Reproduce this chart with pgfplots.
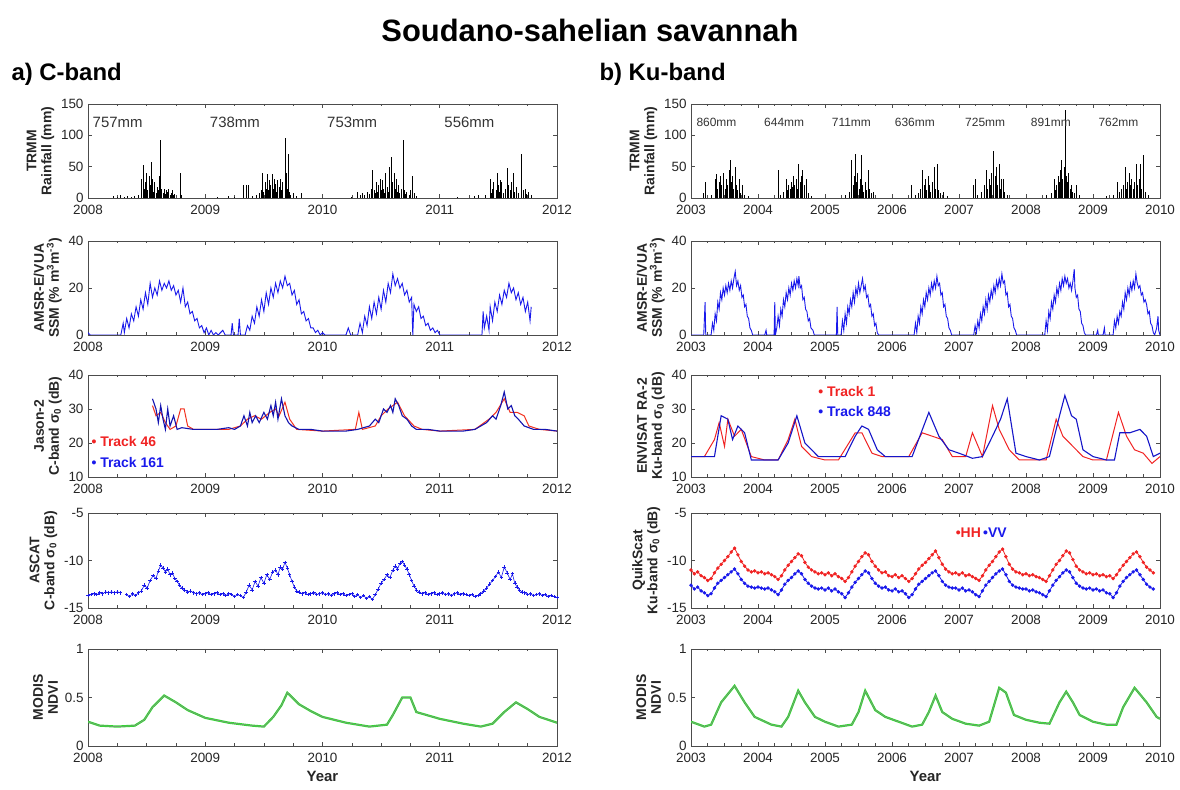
\documentclass[border=0pt]{standalone}
\usepackage{fontspec}
\setmainfont{Liberation Sans}
\usepackage{pgfplots}
\pgfplotsset{compat=1.18}

\definecolor{mblue}{RGB}{25,25,235}
\definecolor{mred}{RGB}{240,35,35}
\definecolor{mgreen}{RGB}{50,215,50}

\pgfplotsset{
  panel/.style={
    scale only axis, width=469bp,
    axis line style={line width=0.7bp, black!70},
    every tick/.style={black!70, line width=0.6bp},
    major tick length=4bp, minor tick length=2.5bp,
    minor x tick num=3,
    tick align=inside,
    /pgf/number format/assume math mode=true,
    /pgf/number format/1000 sep={},
    tick label style={font=\fontsize{13.5}{13.5}\selectfont, black!85},
    xticklabel style={yshift=-4bp},
    yticklabel style={xshift=-1bp},
    ylabel style={font=\fontsize{14}{15}\selectfont\bfseries, align=center, black!85},
    xlabel style={font=\fontsize{15}{15}\selectfont\bfseries, black!85, yshift=-1bp},
    clip=true,
  },
  leftp/.style={panel, xmin=2008, xmax=2012, xtick={2008,2009,2010,2011,2012}},
  rightp/.style={panel, xmin=2003, xmax=2010, xtick={2003,2004,2005,2006,2007,2008,2009,2010}},
  p1/.style={anchor=south west, height=94bp, ymin=0, ymax=150, ytick={0,50,100,150}, ylabel={TRMM\\Rainfall (mm)}},
  p2/.style={anchor=south west, height=94bp, ymin=0, ymax=40, ytick={0,20,40}, ylabel={AMSR-E/VUA\\SSM (\% m\textsuperscript{3}m\textsuperscript{-3})}},
  p3/.style={anchor=south west, height=102bp, ymin=10, ymax=40, ytick={10,20,30,40}},
  p4/.style={anchor=south west, height=95bp, ymin=-15, ymax=-5, ytick={-15,-10,-5}},
  p5/.style={anchor=south west, height=97bp, ymin=0, ymax=1, ytick={0,0.5,1}, ylabel={MODIS\\NDVI}, xlabel={Year}},
  rain/.style={ycomb, black, line width=0.9bp, mark=none},
  ssm/.style={mblue, line width=0.9bp, mark=none},
}

\begin{document}
\begin{tikzpicture}[x=1bp,y=1bp]
\path[use as bounding box] (0,0) rectangle (1180,790);

\node[font=\fontsize{31}{31}\selectfont\bfseries] at (590,760) {Soudano-sahelian savannah};
\node[anchor=west, font=\fontsize{24}{24}\selectfont\bfseries] at (8,716) {a) C-band};
\node[anchor=west, font=\fontsize{24}{24}\selectfont\bfseries] at (596,716) {b) Ku-band};

% ===================== LEFT: C-band =====================
\begin{axis}[leftp, p1, at={(88bp,592bp)}]
\addplot[rain] coordinates {
(2008.22,3)(2008.25,2)(2008.28,4)(2008.31,2)(2008.34,3)(2008.37,2)(2008.40,3)(2008.43,5)(2008.46,30)(2008.47,52)(2008.48,15)(2008.49,25)(2008.50,40)(2008.51,12)(2008.52,35)(2008.53,20)(2008.54,58)(2008.55,30)(2008.56,10)(2008.57,25)(2008.58,8)(2008.59,18)(2008.60,12)(2008.61,35)(2008.62,92)(2008.63,15)(2008.64,8)(2008.65,14)(2008.66,6)(2008.67,12)(2008.68,10)(2008.69,15)(2008.70,5)(2008.71,8)(2008.72,12)(2008.73,4)(2008.74,6)(2008.79,40)(2008.80,5)
(2009.10,2)(2009.20,3)(2009.25,2)(2009.33,20)(2009.35,20)(2009.37,20)(2009.40,3)(2009.44,5)(2009.46,8)(2009.48,12)(2009.49,40)(2009.50,10)(2009.51,25)(2009.52,15)(2009.53,38)(2009.54,12)(2009.55,28)(2009.56,20)(2009.57,38)(2009.58,15)(2009.59,30)(2009.60,22)(2009.61,10)(2009.62,28)(2009.63,18)(2009.64,30)(2009.65,12)(2009.66,25)(2009.68,95)(2009.69,40)(2009.70,15)(2009.71,70)(2009.72,10)(2009.73,5)(2009.75,8)(2009.78,3)(2009.82,8)
(2010.25,2)(2010.30,10)(2010.32,5)(2010.34,8)(2010.36,4)(2010.38,10)(2010.40,6)(2010.42,15)(2010.43,45)(2010.44,12)(2010.45,8)(2010.46,25)(2010.47,10)(2010.48,20)(2010.49,30)(2010.50,12)(2010.51,28)(2010.52,15)(2010.53,8)(2010.54,40)(2010.55,18)(2010.56,10)(2010.57,50)(2010.59,66)(2010.60,25)(2010.61,40)(2010.62,15)(2010.63,30)(2010.64,10)(2010.65,20)(2010.66,8)(2010.67,15)(2010.69,92)(2010.70,12)(2010.71,6)(2010.72,10)(2010.74,5)(2010.75,12)(2010.77,35)(2010.78,8)(2010.80,3)
(2011.15,2)(2011.30,3)(2011.33,5)(2011.39,4)(2011.43,30)(2011.44,8)(2011.45,15)(2011.46,25)(2011.48,12)(2011.49,40)(2011.50,20)(2011.51,10)(2011.52,28)(2011.53,25)(2011.54,8)(2011.56,15)(2011.58,48)(2011.59,20)(2011.60,12)(2011.61,25)(2011.63,40)(2011.64,10)(2011.65,18)(2011.67,8)(2011.70,70)(2011.71,12)(2011.73,15)(2011.74,6)(2011.76,10)(2011.78,4)
};
\node[anchor=west, font=\fontsize{15}{15}\selectfont, black!80] at (axis cs:2008.01,120) {757mm};
\node[anchor=west, font=\fontsize{15}{15}\selectfont, black!80] at (axis cs:2009.01,120) {738mm};
\node[anchor=west, font=\fontsize{15}{15}\selectfont, black!80] at (axis cs:2010.01,120) {753mm};
\node[anchor=west, font=\fontsize{15}{15}\selectfont, black!80] at (axis cs:2011.01,120) {556mm};
\end{axis}

\begin{axis}[leftp, p2, at={(88bp,455bp)}]
\addplot[ssm] coordinates {
(2008.00,1)(2008.02,0)(2008.28,0)(2008.30,5)(2008.31,1)(2008.33,7)(2008.35,3)(2008.37,9)(2008.39,6)(2008.41,12)(2008.43,8)(2008.45,15)(2008.47,11)(2008.49,18)(2008.51,13)(2008.53,22)(2008.55,16)(2008.57,20)(2008.59,17)(2008.61,23)(2008.63,19)(2008.65,22)(2008.67,20)(2008.69,23)(2008.71,19)(2008.73,21)(2008.75,17)(2008.77,19)(2008.79,14)(2008.81,20)(2008.83,12)(2008.85,14)(2008.87,9)(2008.89,10)(2008.91,6)(2008.93,7)(2008.95,3)(2008.97,4)(2008.99,1)(2009.01,3)(2009.03,0)(2009.05,2)(2009.07,0)(2009.09,1)(2009.11,0)(2009.15,2)(2009.17,0)(2009.22,0)(2009.23,5)(2009.24,0)(2009.28,0)(2009.29,7)(2009.30,0)
(2009.34,0)(2009.36,4)(2009.38,2)(2009.40,8)(2009.42,5)(2009.44,12)(2009.46,8)(2009.48,15)(2009.50,10)(2009.52,18)(2009.54,13)(2009.56,20)(2009.58,16)(2009.60,22)(2009.62,18)(2009.64,23)(2009.66,20)(2009.68,25)(2009.70,21)(2009.72,22)(2009.74,17)(2009.76,19)(2009.78,13)(2009.80,15)(2009.82,9)(2009.84,10)(2009.86,6)(2009.88,7)(2009.90,3)(2009.92,3)(2009.94,1)(2009.96,2)(2009.98,0)(2010.00,1)(2010.02,0)(2010.20,0)(2010.22,3)(2010.24,0)
(2010.30,0)(2010.32,5)(2010.34,1)(2010.36,8)(2010.38,4)(2010.40,12)(2010.42,7)(2010.44,14)(2010.46,9)(2010.48,16)(2010.50,11)(2010.52,19)(2010.54,14)(2010.56,22)(2010.58,18)(2010.60,26)(2010.62,21)(2010.64,24)(2010.66,20)(2010.68,22)(2010.70,17)(2010.72,19)(2010.74,14)(2010.76,16)(2010.77,0)(2010.78,13)(2010.80,10)(2010.82,12)(2010.84,7)(2010.86,8)(2010.88,4)(2010.90,5)(2010.92,2)(2010.94,3)(2010.96,1)(2010.98,2)(2011.00,0)(2011.36,0)
(2011.37,10)(2011.38,3)(2011.40,8)(2011.42,2)(2011.43,12)(2011.45,6)(2011.47,14)(2011.49,10)(2011.51,17)(2011.53,13)(2011.55,19)(2011.57,16)(2011.59,22)(2011.61,18)(2011.63,20)(2011.65,15)(2011.67,18)(2011.69,13)(2011.71,16)(2011.73,10)(2011.75,14)(2011.77,6)(2011.78,12)
};
\end{axis}

\begin{axis}[leftp, p3, at={(88bp,313bp)}, ylabel={Jason-2\\C-band σ\textsubscript{0} (dB)}]
\addplot[mred!85!orange, line width=1bp, mark=none] coordinates {
(2008.55,31)(2008.58,28)(2008.62,29)(2008.66,26)(2008.70,24)(2008.75,25)(2008.79,30)(2008.82,30)(2008.85,25)(2008.90,24)(2009.0,24)(2009.2,24)(2009.3,25)(2009.36,27)(2009.42,28)(2009.48,27)(2009.55,29)(2009.6,30)(2009.63,28)(2009.68,32)(2009.72,27)(2009.78,24)(2010.0,23.5)(2010.28,24)(2010.31,29)(2010.34,24)(2010.45,25)(2010.5,28)(2010.56,30)(2010.6,31)(2010.64,32)(2010.7,28)(2010.78,25)(2010.85,24)(2011.0,23.5)(2011.3,24)(2011.42,27)(2011.48,29)(2011.55,33)(2011.6,29)(2011.66,29)(2011.72,28)(2011.76,25)(2011.85,24)(2012,23.5)
};
\addplot[mblue!75!black, line width=1.1bp, mark=none] coordinates {
(2008.55,33)(2008.58,30)(2008.60,26)(2008.62,31)(2008.64,27)(2008.66,24)(2008.68,30)(2008.70,25)(2008.73,28)(2008.76,24)(2008.80,24.5)(2008.90,24)(2009.0,24)(2009.1,24)(2009.2,24.5)(2009.25,24)(2009.30,25)(2009.33,28)(2009.36,25)(2009.38,29)(2009.40,26)(2009.43,28)(2009.46,26)(2009.50,29)(2009.53,27)(2009.56,31)(2009.58,28)(2009.60,32)(2009.62,27)(2009.65,33)(2009.68,28)(2009.71,26)(2009.74,25)(2009.80,24)(2009.9,24)(2010.0,23.5)(2010.2,23.5)(2010.3,24)(2010.4,25)(2010.45,27)(2010.48,26)(2010.52,30)(2010.55,29)(2010.58,31)(2010.60,29)(2010.62,33)(2010.65,31)(2010.68,28)(2010.72,27)(2010.76,25)(2010.8,24)(2010.9,24)(2011.0,23.5)(2011.2,23.5)(2011.3,24)(2011.4,26)(2011.45,28)(2011.48,27)(2011.52,31)(2011.55,35)(2011.58,30)(2011.61,31)(2011.64,28)(2011.67,27)(2011.72,25)(2011.8,24)(2011.9,24)(2012.0,23.5)
};
\node[anchor=west, font=\fontsize{14}{14}\selectfont\bfseries, text=mred] at (axis cs:2008.0,20.3) {• Track 46};
\node[anchor=west, font=\fontsize{14}{14}\selectfont\bfseries, text=mblue] at (axis cs:2008.0,14.4) {• Track 161};
\end{axis}

\begin{axis}[leftp, p4, at={(88bp,182bp)}, ylabel={ASCAT\\C-band σ\textsubscript{0} (dB)}, unbounded coords=jump]
\addplot[mblue, line width=0.6bp, mark=+, mark size=1.8bp, mark options={line width=0.6bp}] coordinates {
(2008.000,-13.7)(2008.025,-13.6)(2008.050,-13.5)(2008.075,-13.6)(2008.100,-13.4)(2008.125,-13.5)(2008.150,-13.3)(2008.175,-13.4)(2008.200,-13.3)(2008.225,-13.4)(2008.250,-13.3)(2008.275,-13.4)(2008.300,nan)
(2008.330,-13.6)(2008.355,-13.8)(2008.380,-13.5)(2008.405,-13.7)(2008.430,-13.4)(2008.455,-13.2)(2008.480,-12.6)(2008.505,-12.9)(2008.530,-12.1)(2008.555,-11.6)(2008.580,-11.9)(2008.600,-11.1)(2008.620,-10.5)(2008.640,-10.8)(2008.660,-11.2)(2008.680,-10.9)(2008.700,-11.5)(2008.720,-11.3)(2008.740,-11.9)(2008.760,-12.2)(2008.780,-12.6)(2008.800,-12.9)(2008.825,-13.1)(2008.850,-13.3)(2008.875,-13.2)(2008.900,-13.4)(2008.925,-13.5)(2008.950,-13.4)(2008.975,-13.6)
(2009.000,-13.5)(2009.025,-13.4)(2009.050,-13.6)(2009.075,-13.5)(2009.100,-13.4)(2009.125,-13.6)(2009.150,-13.5)(2009.175,-13.7)(2009.200,-13.5)(2009.225,-13.6)(2009.250,-13.8)(2009.275,-13.6)(2009.300,-13.7)(2009.325,-13.9)(2009.350,-13.3)(2009.375,-12.6)(2009.400,-13.1)(2009.425,-12.2)(2009.450,-12.7)(2009.475,-11.8)(2009.500,-12.4)(2009.525,-11.5)(2009.550,-12.0)(2009.575,-11.2)(2009.600,-11.0)(2009.620,-11.5)(2009.640,-10.7)(2009.660,-10.9)(2009.680,-10.2)(2009.700,-10.8)(2009.720,-11.5)(2009.740,-12.2)(2009.760,-12.8)(2009.780,-13.2)(2009.800,-13.3)(2009.825,-13.5)(2009.850,-13.4)(2009.875,-13.6)(2009.900,-13.5)(2009.925,-13.4)(2009.950,-13.6)(2009.975,-13.5)
(2010.000,-13.4)(2010.025,-13.6)(2010.050,-13.5)(2010.075,-13.7)(2010.100,-13.5)(2010.125,-13.4)(2010.150,-13.6)(2010.175,-13.5)(2010.200,-13.7)(2010.225,-13.6)(2010.250,-13.5)(2010.275,-13.8)(2010.300,-13.6)(2010.325,-13.9)(2010.350,-13.7)(2010.375,-14.0)(2010.400,-13.8)(2010.425,-14.1)(2010.450,-13.6)(2010.475,-13.0)(2010.500,-12.4)(2010.525,-12.0)(2010.550,-11.5)(2010.575,-11.8)(2010.600,-11.0)(2010.620,-10.6)(2010.640,-10.9)(2010.660,-10.3)(2010.680,-10.1)(2010.700,-10.5)(2010.720,-10.9)(2010.740,-11.5)(2010.760,-12.1)(2010.780,-12.7)(2010.800,-13.1)(2010.825,-13.3)(2010.850,-13.5)(2010.875,-13.4)(2010.900,-13.6)(2010.925,-13.5)(2010.950,-13.4)(2010.975,-13.6)
(2011.000,-13.5)(2011.025,-13.4)(2011.050,-13.6)(2011.075,-13.5)(2011.100,-13.7)(2011.125,-13.5)(2011.150,-13.4)(2011.175,-13.6)(2011.200,-13.5)(2011.225,-13.6)(2011.250,-13.7)(2011.275,-13.6)(2011.300,-13.8)(2011.325,-13.7)(2011.350,-13.5)(2011.375,-13.2)(2011.400,-12.9)(2011.425,-12.5)(2011.450,-12.1)(2011.475,-11.7)(2011.500,-11.2)(2011.525,-11.8)(2011.550,-10.7)(2011.575,-11.3)(2011.600,-12.0)(2011.620,-11.4)(2011.640,-12.4)(2011.660,-12.8)(2011.680,-13.1)(2011.700,-13.3)(2011.725,-13.4)(2011.750,-13.6)(2011.775,-13.5)(2011.800,-13.7)(2011.825,-13.6)(2011.850,-13.5)(2011.875,-13.7)(2011.900,-13.6)(2011.925,-13.8)(2011.950,-13.7)(2011.975,-13.8)(2012.000,-13.9)
};
\end{axis}

\begin{axis}[leftp, p5, at={(88bp,44bp)}]
\addplot[mgreen, line width=2.2bp, mark=none] coordinates {
(2008.0,0.25)(2008.1,0.21)(2008.25,0.20)(2008.4,0.21)(2008.48,0.27)(2008.55,0.40)(2008.65,0.52)(2008.75,0.45)(2008.85,0.37)(2009.0,0.29)(2009.2,0.24)(2009.4,0.21)(2009.5,0.20)(2009.58,0.30)(2009.65,0.42)(2009.7,0.55)(2009.8,0.43)(2009.9,0.36)(2010.0,0.30)(2010.2,0.24)(2010.4,0.20)(2010.55,0.22)(2010.6,0.32)(2010.68,0.50)(2010.75,0.50)(2010.8,0.35)(2011.0,0.28)(2011.2,0.23)(2011.35,0.20)(2011.45,0.23)(2011.55,0.35)(2011.65,0.45)(2011.75,0.38)(2011.85,0.30)(2012.0,0.24)
};
\addplot[black!45, line width=0.5bp, mark=none] coordinates {
(2008.0,0.25)(2008.1,0.21)(2008.25,0.20)(2008.4,0.21)(2008.48,0.27)(2008.55,0.40)(2008.65,0.52)(2008.75,0.45)(2008.85,0.37)(2009.0,0.29)(2009.2,0.24)(2009.4,0.21)(2009.5,0.20)(2009.58,0.30)(2009.65,0.42)(2009.7,0.55)(2009.8,0.43)(2009.9,0.36)(2010.0,0.30)(2010.2,0.24)(2010.4,0.20)(2010.55,0.22)(2010.6,0.32)(2010.68,0.50)(2010.75,0.50)(2010.8,0.35)(2011.0,0.28)(2011.2,0.23)(2011.35,0.20)(2011.45,0.23)(2011.55,0.35)(2011.65,0.45)(2011.75,0.38)(2011.85,0.30)(2012.0,0.24)
};
\end{axis}

% ===================== RIGHT: Ku-band =====================
\begin{axis}[rightp, p1, at={(691bp,592bp)}]
\addplot[rain] coordinates {
(2003.18,8)(2003.22,25)(2003.30,5)(2003.36,30)(2003.38,38)(2003.40,15)(2003.42,25)(2003.44,35)(2003.46,20)(2003.48,28)(2003.49,40)(2003.51,15)(2003.53,30)(2003.55,20)(2003.57,45)(2003.59,60)(2003.60,25)(2003.62,35)(2003.64,15)(2003.66,50)(2003.68,20)(2003.70,12)(2003.72,30)(2003.74,8)(2003.77,20)(2003.80,5)(2003.85,3)
(2004.30,45)(2004.33,5)(2004.38,10)(2004.42,30)(2004.44,12)(2004.46,20)(2004.48,15)(2004.50,25)(2004.52,18)(2004.53,35)(2004.55,20)(2004.57,30)(2004.59,15)(2004.61,55)(2004.63,25)(2004.65,35)(2004.67,45)(2004.69,20)(2004.70,12)(2004.72,30)(2004.75,8)(2004.80,3)
(2005.30,4)(2005.36,10)(2005.40,60)(2005.42,20)(2005.44,35)(2005.45,70)(2005.47,25)(2005.49,40)(2005.51,15)(2005.53,30)(2005.54,68)(2005.56,20)(2005.58,10)(2005.60,25)(2005.62,12)(2005.65,45)(2005.67,15)(2005.70,8)(2005.73,10)
(2006.29,20)(2006.35,4)(2006.40,8)(2006.43,15)(2006.46,45)(2006.48,20)(2006.50,30)(2006.52,12)(2006.54,35)(2006.56,20)(2006.58,10)(2006.60,25)(2006.63,50)(2006.65,15)(2006.68,55)(2006.70,12)(2006.72,8)(2006.77,10)(2006.82,3)
(2007.22,20)(2007.24,30)(2007.28,5)(2007.34,10)(2007.38,20)(2007.41,45)(2007.43,15)(2007.45,30)(2007.47,20)(2007.49,40)(2007.51,25)(2007.52,75)(2007.54,35)(2007.56,50)(2007.58,20)(2007.60,55)(2007.62,15)(2007.64,30)(2007.66,30)(2007.68,10)(2007.72,5)
(2008.30,5)(2008.38,8)(2008.42,30)(2008.44,12)(2008.46,20)(2008.48,35)(2008.50,25)(2008.52,45)(2008.53,60)(2008.55,30)(2008.57,50)(2008.59,140)(2008.60,35)(2008.62,25)(2008.64,40)(2008.66,15)(2008.68,20)(2008.70,10)(2008.73,8)(2008.76,20)(2008.80,4)
(2009.20,3)(2009.30,5)(2009.37,25)(2009.40,10)(2009.43,15)(2009.45,20)(2009.48,50)(2009.50,15)(2009.52,25)(2009.54,40)(2009.56,20)(2009.58,30)(2009.60,15)(2009.62,25)(2009.65,55)(2009.67,20)(2009.69,30)(2009.71,55)(2009.73,15)(2009.76,68)(2009.78,10)(2009.82,4)
};
\node[anchor=west, font=\fontsize{12}{12}\selectfont, black!80] at (axis cs:2003.03,120) {860mm};
\node[anchor=west, font=\fontsize{12}{12}\selectfont, black!80] at (axis cs:2004.04,120) {644mm};
\node[anchor=west, font=\fontsize{12}{12}\selectfont, black!80] at (axis cs:2005.05,120) {711mm};
\node[anchor=west, font=\fontsize{12}{12}\selectfont, black!80] at (axis cs:2005.99,120) {636mm};
\node[anchor=west, font=\fontsize{12}{12}\selectfont, black!80] at (axis cs:2007.04,120) {725mm};
\node[anchor=west, font=\fontsize{12}{12}\selectfont, black!80] at (axis cs:2008.02,120) {891mm};
\node[anchor=west, font=\fontsize{12}{12}\selectfont, black!80] at (axis cs:2009.03,120) {762mm};
\end{axis}

\begin{axis}[rightp, p2, at={(691bp,455bp)}]
\addplot[ssm] coordinates {
(2003.00,0)(2003.19,0)(2003.21,14)(2003.22,0)(2003.30,0)(2003.32,5)(2003.34,2)(2003.36,9)(2003.38,6)(2003.40,14)(2003.42,11)(2003.44,18)(2003.46,15)(2003.48,20)(2003.50,17)(2003.52,21)(2003.54,18)(2003.56,22)(2003.58,19)(2003.60,23)(2003.62,20)(2003.64,24)(2003.66,27)(2003.68,21)(2003.70,23)(2003.72,19)(2003.74,21)(2003.76,16)(2003.78,17)(2003.80,12)(2003.82,13)(2003.84,8)(2003.86,7)(2003.88,3)(2003.90,2)(2003.92,0)
(2004.10,0)(2004.12,2)(2004.13,0)
(2004.24,0)(2004.25,14)(2004.26,0)(2004.28,3)(2004.30,8)(2004.32,4)(2004.34,11)(2004.36,8)(2004.38,15)(2004.40,12)(2004.42,18)(2004.44,15)(2004.46,20)(2004.48,17)(2004.50,22)(2004.52,19)(2004.54,23)(2004.56,20)(2004.58,24)(2004.60,21)(2004.61,25)(2004.63,20)(2004.65,21)(2004.67,15)(2004.69,16)(2004.71,11)(2004.73,10)(2004.75,6)(2004.77,7)(2004.79,3)(2004.82,2)(2004.84,0)
(2005.17,0)(2005.18,12)(2005.19,0)(2005.24,0)(2005.26,6)(2005.28,2)(2005.30,9)(2005.32,5)(2005.34,12)(2005.36,9)(2005.38,15)(2005.40,12)(2005.42,18)(2005.44,14)(2005.46,20)(2005.48,17)(2005.50,22)(2005.52,18)(2005.54,21)(2005.56,24)(2005.58,19)(2005.60,21)(2005.62,16)(2005.64,17)(2005.66,12)(2005.68,13)(2005.70,8)(2005.72,9)(2005.74,4)(2005.76,5)(2005.78,1)(2005.80,0)
(2006.00,0)(2006.33,0)(2006.35,5)(2006.37,1)(2006.39,8)(2006.41,5)(2006.43,12)(2006.45,9)(2006.47,15)(2006.49,12)(2006.51,18)(2006.53,15)(2006.55,20)(2006.57,17)(2006.59,22)(2006.61,19)(2006.63,23)(2006.65,20)(2006.67,25)(2006.69,21)(2006.71,22)(2006.73,17)(2006.75,18)(2006.77,12)(2006.79,13)(2006.81,8)(2006.83,7)(2006.85,3)(2006.87,2)(2006.89,0)
(2007.22,0)(2007.24,4)(2007.26,1)(2007.28,6)(2007.30,3)(2007.32,9)(2007.34,6)(2007.36,12)(2007.38,9)(2007.40,15)(2007.42,11)(2007.44,17)(2007.46,14)(2007.48,19)(2007.50,16)(2007.52,21)(2007.54,18)(2007.56,23)(2007.58,20)(2007.60,24)(2007.62,21)(2007.64,26)(2007.66,22)(2007.68,23)(2007.70,17)(2007.72,18)(2007.74,12)(2007.76,13)(2007.78,8)(2007.80,7)(2007.82,3)(2007.84,2)(2007.86,0)
(2008.28,0)(2008.30,6)(2008.32,2)(2008.34,10)(2008.36,7)(2008.38,14)(2008.40,11)(2008.42,17)(2008.44,14)(2008.46,20)(2008.48,17)(2008.50,22)(2008.52,19)(2008.54,24)(2008.56,21)(2008.58,25)(2008.60,22)(2008.62,24)(2008.64,20)(2008.66,22)(2008.68,19)(2008.70,23)(2008.72,28)(2008.73,20)(2008.75,16)(2008.77,17)(2008.79,11)(2008.81,10)(2008.83,5)(2008.85,4)(2008.87,1)(2008.89,0)
(2009.05,0)(2009.07,2)(2009.08,0)(2009.15,0)(2009.17,3)(2009.18,0)
(2009.30,0)(2009.32,6)(2009.34,3)(2009.36,8)(2009.38,5)(2009.40,10)(2009.42,8)(2009.44,14)(2009.46,11)(2009.48,18)(2009.50,15)(2009.52,20)(2009.54,17)(2009.56,22)(2009.58,19)(2009.60,23)(2009.62,20)(2009.64,26)(2009.66,22)(2009.68,20)(2009.70,21)(2009.72,17)(2009.74,18)(2009.76,14)(2009.78,15)(2009.80,13)(2009.82,9)(2009.84,10)(2009.86,5)(2009.88,4)(2009.90,1)(2009.92,0)(2009.95,3)(2009.97,8)(2009.98,2)(2010.0,0)
};
\end{axis}

\begin{axis}[rightp, p3, at={(691bp,313bp)}, ylabel={ENVISAT RA-2\\Ku-band σ\textsubscript{0} (dB)}]
\addplot[mred, line width=1bp, mark=none] coordinates {
(2003.0,16)(2003.2,16)(2003.35,21)(2003.42,26)(2003.5,19)(2003.55,27)(2003.65,22)(2003.75,24)(2003.9,16)(2004.1,15)(2004.3,15)(2004.45,21)(2004.55,27)(2004.65,19)(2004.8,16)(2005.0,15)(2005.2,15)(2005.45,23)(2005.55,23)(2005.7,17)(2005.85,16)(2006.0,16)(2006.25,16)(2006.45,23)(2006.6,22)(2006.75,21)(2006.9,16)(2007.1,16)(2007.2,23)(2007.35,16)(2007.5,31)(2007.6,24)(2007.75,18)(2007.9,15)(2008.1,15)(2008.3,15)(2008.45,27)(2008.55,22)(2008.7,19)(2008.85,16)(2009.0,15)(2009.2,15)(2009.38,29)(2009.5,22)(2009.62,18)(2009.75,17)(2009.88,14)(2010,16)
};
\addplot[mblue!85!black, line width=1.1bp, mark=none] coordinates {
(2003.0,16)(2003.2,16)(2003.35,16)(2003.45,28)(2003.55,27)(2003.62,21)(2003.7,25)(2003.8,23)(2003.9,15)(2004.0,15)(2004.2,15)(2004.3,15)(2004.45,20)(2004.58,28)(2004.7,20)(2004.8,18)(2004.9,16)(2005.1,16)(2005.3,16)(2005.45,22)(2005.55,25)(2005.65,24)(2005.78,18)(2005.9,16)(2006.1,16)(2006.3,16)(2006.55,29)(2006.7,22)(2006.85,18)(2007.0,17)(2007.2,15.5)(2007.35,16)(2007.5,22)(2007.62,27)(2007.72,33)(2007.85,17)(2008.0,16)(2008.2,15)(2008.35,16)(2008.5,28)(2008.58,34)(2008.68,28)(2008.75,27)(2008.85,18)(2009.0,16)(2009.2,15)(2009.32,15)(2009.4,23)(2009.55,23)(2009.7,24)(2009.8,22)(2009.9,16)(2010,17)
};
\node[anchor=west, font=\fontsize{14}{14}\selectfont\bfseries, text=mred] at (axis cs:2004.85,35.2) {• Track 1};
\node[anchor=west, font=\fontsize{14}{14}\selectfont\bfseries, text=mblue] at (axis cs:2004.85,29.4) {• Track 848};
\end{axis}

\begin{axis}[rightp, p4, at={(691bp,182bp)}, ylabel={QuikScat\\Ku-band σ\textsubscript{0} (dB)}]
\addplot[mred, line width=0.8bp, mark=*, mark size=1.3bp] coordinates {
(2003.00,-11.0)(2003.05,-11.4)(2003.10,-11.2)(2003.15,-11.6)(2003.20,-11.8)(2003.25,-12.1)(2003.30,-11.9)(2003.35,-11.3)(2003.40,-10.8)(2003.45,-10.4)(2003.50,-10.0)(2003.55,-9.6)(2003.60,-9.1)(2003.65,-8.7)(2003.70,-9.4)(2003.75,-10.1)(2003.80,-10.6)(2003.85,-11.0)(2003.90,-11.2)(2003.95,-11.1)
(2004.00,-11.3)(2004.05,-11.2)(2004.10,-11.4)(2004.15,-11.3)(2004.20,-11.5)(2004.25,-11.7)(2004.30,-12.0)(2004.35,-11.6)(2004.40,-11.0)(2004.45,-10.5)(2004.50,-10.1)(2004.55,-9.7)(2004.60,-9.3)(2004.65,-9.5)(2004.70,-10.2)(2004.75,-10.7)(2004.80,-11.0)(2004.85,-11.2)(2004.90,-11.4)(2004.95,-11.3)
(2005.00,-11.5)(2005.05,-11.3)(2005.10,-11.6)(2005.15,-11.4)(2005.20,-11.7)(2005.25,-11.9)(2005.30,-12.2)(2005.35,-11.8)(2005.40,-11.2)(2005.45,-10.6)(2005.50,-10.1)(2005.55,-9.6)(2005.60,-9.2)(2005.65,-9.4)(2005.70,-10.1)(2005.75,-10.6)(2005.80,-11.0)(2005.85,-11.3)(2005.90,-11.2)(2005.95,-11.6)
(2006.00,-11.7)(2006.05,-11.5)(2006.10,-11.8)(2006.15,-11.6)(2006.20,-11.9)(2006.25,-12.2)(2006.30,-11.9)(2006.35,-11.4)(2006.40,-10.9)(2006.45,-10.5)(2006.50,-10.2)(2006.55,-9.8)(2006.60,-9.4)(2006.65,-9.0)(2006.70,-9.7)(2006.75,-10.4)(2006.80,-10.9)(2006.85,-11.2)(2006.90,-11.4)(2006.95,-11.3)
(2007.00,-11.5)(2007.05,-11.3)(2007.10,-11.6)(2007.15,-11.5)(2007.20,-11.7)(2007.25,-11.9)(2007.30,-12.1)(2007.35,-11.6)(2007.40,-11.0)(2007.45,-10.5)(2007.50,-10.1)(2007.55,-9.6)(2007.60,-9.1)(2007.65,-8.8)(2007.70,-9.6)(2007.75,-10.4)(2007.80,-10.9)(2007.85,-11.2)(2007.90,-11.3)(2007.95,-11.5)
(2008.00,-11.4)(2008.05,-11.6)(2008.10,-11.5)(2008.15,-11.7)(2008.20,-11.8)(2008.25,-12.0)(2008.30,-12.2)(2008.35,-11.6)(2008.40,-11.0)(2008.45,-10.4)(2008.50,-10.0)(2008.55,-9.5)(2008.60,-9.0)(2008.65,-9.2)(2008.70,-9.9)(2008.75,-10.6)(2008.80,-11.0)(2008.85,-11.2)(2008.90,-11.4)(2008.95,-11.3)
(2009.00,-11.5)(2009.05,-11.4)(2009.10,-11.6)(2009.15,-11.5)(2009.20,-11.7)(2009.25,-11.6)(2009.30,-11.9)(2009.35,-11.5)(2009.40,-11.0)(2009.45,-10.5)(2009.50,-10.1)(2009.55,-9.7)(2009.60,-9.3)(2009.65,-9.1)(2009.70,-9.6)(2009.75,-10.2)(2009.80,-10.7)(2009.85,-11.0)(2009.90,-11.3)
};
\addplot[mblue, line width=0.8bp, mark=*, mark size=1.3bp] coordinates {
(2003.00,-12.6)(2003.05,-13.0)(2003.10,-12.8)(2003.15,-13.2)(2003.20,-13.4)(2003.25,-13.7)(2003.30,-13.5)(2003.35,-12.9)(2003.40,-12.4)(2003.45,-12.1)(2003.50,-11.8)(2003.55,-11.5)(2003.60,-11.2)(2003.65,-10.9)(2003.70,-11.4)(2003.75,-12.0)(2003.80,-12.4)(2003.85,-12.7)(2003.90,-12.8)(2003.95,-12.9)
(2004.00,-12.8)(2004.05,-12.9)(2004.10,-13.0)(2004.15,-12.9)(2004.20,-13.1)(2004.25,-13.3)(2004.30,-13.6)(2004.35,-13.1)(2004.40,-12.5)(2004.45,-12.1)(2004.50,-11.8)(2004.55,-11.4)(2004.60,-11.1)(2004.65,-11.4)(2004.70,-12.0)(2004.75,-12.4)(2004.80,-12.7)(2004.85,-12.9)(2004.90,-13.0)(2004.95,-12.9)
(2005.00,-13.1)(2005.05,-12.9)(2005.10,-13.2)(2005.15,-13.0)(2005.20,-13.3)(2005.25,-13.5)(2005.30,-13.9)(2005.35,-13.4)(2005.40,-12.8)(2005.45,-12.3)(2005.50,-11.9)(2005.55,-11.5)(2005.60,-11.1)(2005.65,-11.3)(2005.70,-11.9)(2005.75,-12.4)(2005.80,-12.7)(2005.85,-12.9)(2005.90,-12.8)(2005.95,-13.1)
(2006.00,-13.2)(2006.05,-13.0)(2006.10,-13.3)(2006.15,-13.2)(2006.20,-13.5)(2006.25,-13.9)(2006.30,-13.6)(2006.35,-13.0)(2006.40,-12.5)(2006.45,-12.2)(2006.50,-11.9)(2006.55,-11.6)(2006.60,-11.3)(2006.65,-11.1)(2006.70,-11.6)(2006.75,-12.2)(2006.80,-12.6)(2006.85,-12.8)(2006.90,-12.9)(2006.95,-12.9)
(2007.00,-13.1)(2007.05,-12.9)(2007.10,-13.2)(2007.15,-13.1)(2007.20,-13.3)(2007.25,-13.6)(2007.30,-13.8)(2007.35,-13.2)(2007.40,-12.6)(2007.45,-12.2)(2007.50,-11.8)(2007.55,-11.4)(2007.60,-11.1)(2007.65,-10.9)(2007.70,-11.5)(2007.75,-12.2)(2007.80,-12.6)(2007.85,-12.8)(2007.90,-12.9)(2007.95,-13.0)
(2008.00,-13.0)(2008.05,-13.2)(2008.10,-13.1)(2008.15,-13.3)(2008.20,-13.4)(2008.25,-13.6)(2008.30,-13.8)(2008.35,-13.2)(2008.40,-12.6)(2008.45,-12.1)(2008.50,-11.7)(2008.55,-11.3)(2008.60,-11.0)(2008.65,-11.2)(2008.70,-11.8)(2008.75,-12.4)(2008.80,-12.7)(2008.85,-12.9)(2008.90,-13.0)(2008.95,-12.9)
(2009.00,-13.1)(2009.05,-13.0)(2009.10,-13.2)(2009.15,-13.1)(2009.20,-13.4)(2009.25,-13.5)(2009.30,-13.9)(2009.35,-13.4)(2009.40,-12.7)(2009.45,-12.2)(2009.50,-11.8)(2009.55,-11.5)(2009.60,-11.2)(2009.65,-11.0)(2009.70,-11.5)(2009.75,-12.0)(2009.80,-12.5)(2009.85,-12.8)(2009.90,-13.0)
};
\node[anchor=west, font=\fontsize{14}{14}\selectfont\bfseries] at (axis cs:2006.9,-7.1) {\textcolor{mred}{•HH}\,\textcolor{mblue}{•VV}};
\end{axis}

\begin{axis}[rightp, p5, at={(691bp,44bp)}]
\addplot[mgreen, line width=2.2bp, mark=none] coordinates {
(2003.0,0.25)(2003.2,0.20)(2003.3,0.22)(2003.45,0.45)(2003.65,0.62)(2003.8,0.45)(2003.95,0.30)(2004.2,0.22)(2004.35,0.20)(2004.45,0.30)(2004.6,0.57)(2004.7,0.45)(2004.85,0.30)(2005.0,0.25)(2005.2,0.20)(2005.4,0.22)(2005.5,0.35)(2005.6,0.57)(2005.75,0.37)(2005.9,0.30)(2006.1,0.25)(2006.3,0.20)(2006.45,0.22)(2006.55,0.35)(2006.65,0.52)(2006.75,0.35)(2006.9,0.28)(2007.1,0.23)(2007.3,0.21)(2007.45,0.25)(2007.6,0.60)(2007.7,0.55)(2007.82,0.32)(2008.0,0.27)(2008.2,0.24)(2008.35,0.23)(2008.5,0.45)(2008.6,0.56)(2008.7,0.45)(2008.8,0.32)(2009.0,0.25)(2009.2,0.22)(2009.35,0.22)(2009.45,0.40)(2009.62,0.60)(2009.8,0.45)(2009.95,0.30)(2010.0,0.28)
};
\addplot[black!45, line width=0.5bp, mark=none] coordinates {
(2003.0,0.25)(2003.2,0.20)(2003.3,0.22)(2003.45,0.45)(2003.65,0.62)(2003.8,0.45)(2003.95,0.30)(2004.2,0.22)(2004.35,0.20)(2004.45,0.30)(2004.6,0.57)(2004.7,0.45)(2004.85,0.30)(2005.0,0.25)(2005.2,0.20)(2005.4,0.22)(2005.5,0.35)(2005.6,0.57)(2005.75,0.37)(2005.9,0.30)(2006.1,0.25)(2006.3,0.20)(2006.45,0.22)(2006.55,0.35)(2006.65,0.52)(2006.75,0.35)(2006.9,0.28)(2007.1,0.23)(2007.3,0.21)(2007.45,0.25)(2007.6,0.60)(2007.7,0.55)(2007.82,0.32)(2008.0,0.27)(2008.2,0.24)(2008.35,0.23)(2008.5,0.45)(2008.6,0.56)(2008.7,0.45)(2008.8,0.32)(2009.0,0.25)(2009.2,0.22)(2009.35,0.22)(2009.45,0.40)(2009.62,0.60)(2009.8,0.45)(2009.95,0.30)(2010.0,0.28)
};
\end{axis}

\end{tikzpicture}
\end{document}
